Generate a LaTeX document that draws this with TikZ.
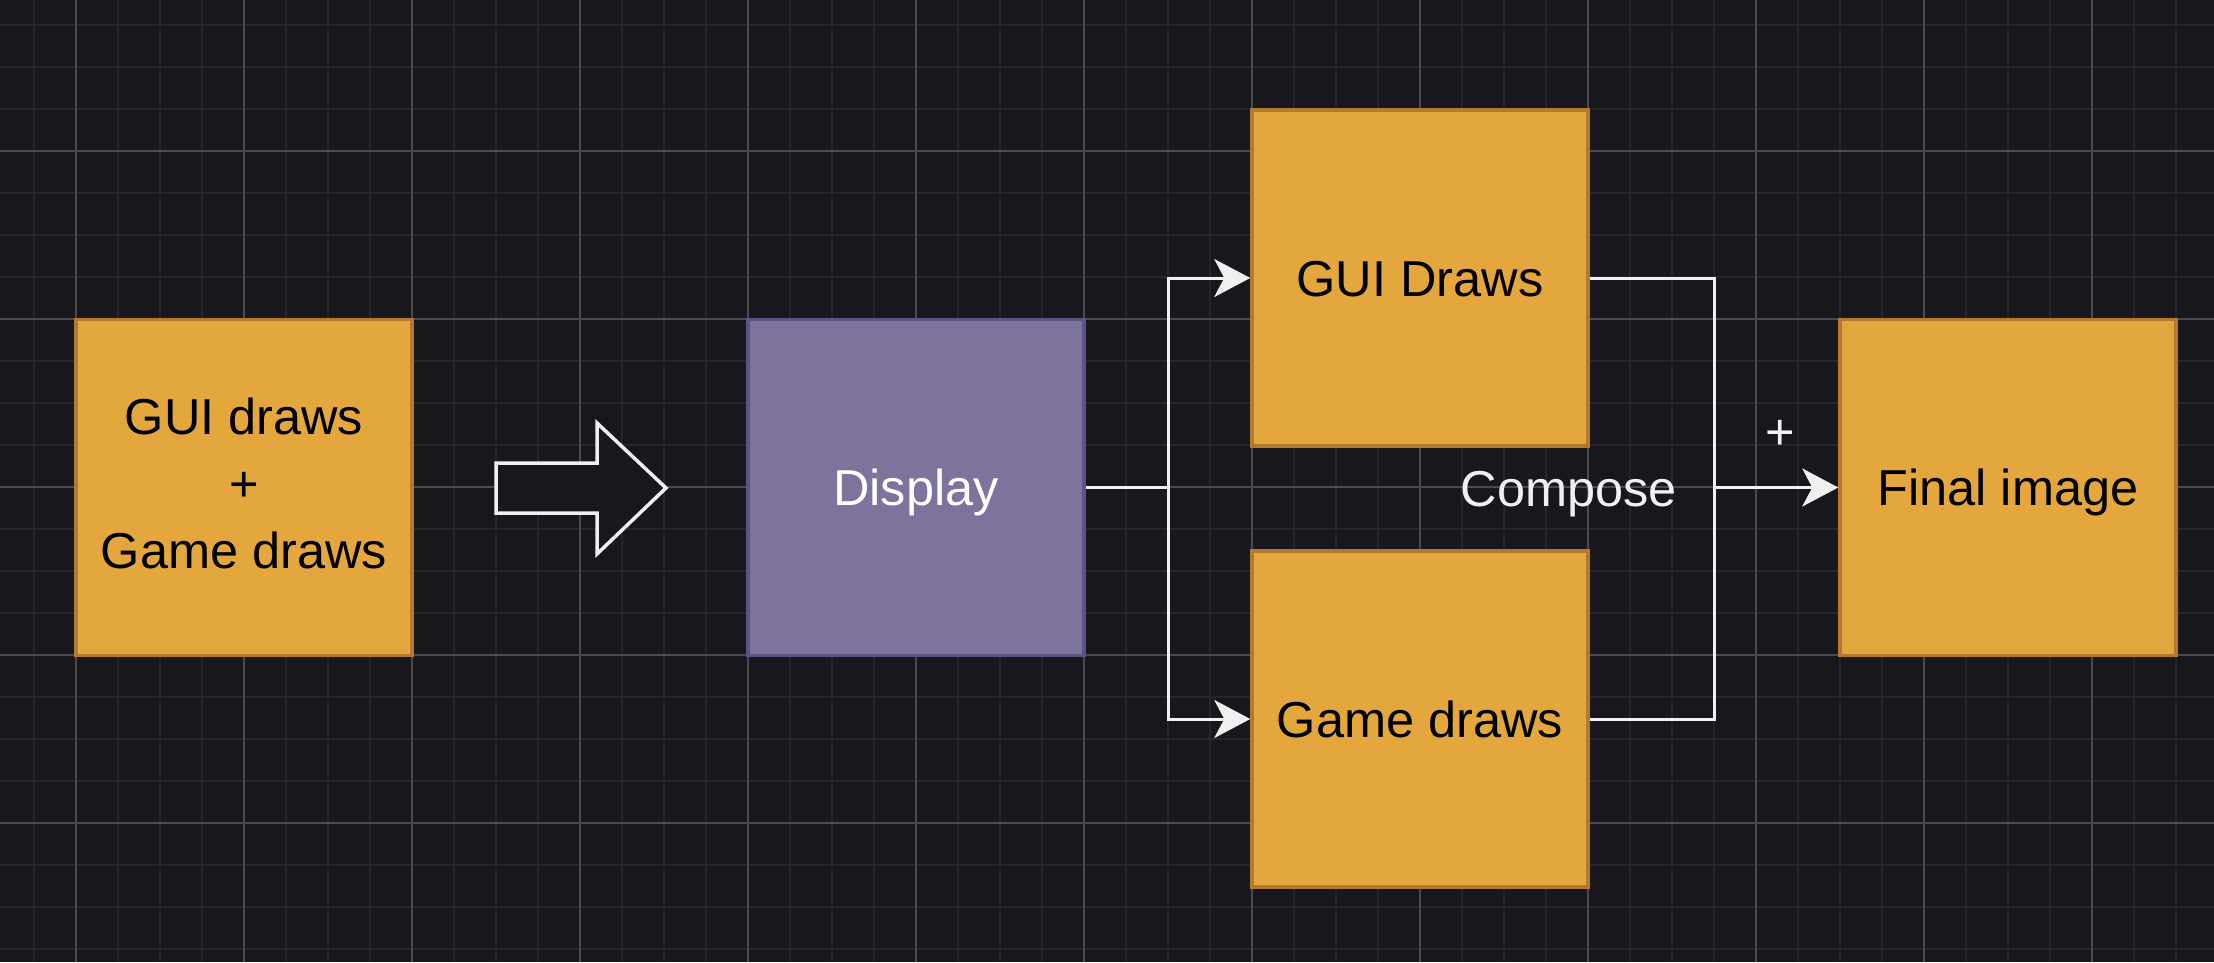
\documentclass[tikz,border=0pt]{standalone}
\usepackage{fontspec}
\setmainfont{Liberation Sans}
\usetikzlibrary{arrows.meta}
\definecolor{bgc}{HTML}{19171E}
\definecolor{minorc}{HTML}{26252B}
\definecolor{majorc}{HTML}{4A494F}
\definecolor{ofill}{HTML}{E4A73D}
\definecolor{ostroke}{HTML}{B37A2E}
\definecolor{pfill}{HTML}{7D739C}
\definecolor{pstroke}{HTML}{5C5488}
\definecolor{wline}{HTML}{F0F0F0}
\begin{document}
\begin{tikzpicture}[x=1pt,y=-1pt,
  boxbase/.style={line width=3.5pt, minimum width=336pt, minimum height=336pt,
    inner sep=0pt, font=\fontsize{50.5}{67}\selectfont, align=center},
  oneline/.style={text height=36.5pt, text depth=0pt},
  obox/.style={boxbase, draw=ostroke, fill=ofill, text=black},
  pbox/.style={boxbase, draw=pstroke, fill=pfill, text=white},
  lbl/.style={inner sep=0pt, font=\fontsize{50.5}{60}\selectfont, text=wline},
  conn/.style={draw=wline, line width=3pt, line join=miter},
  tip/.style={conn, -{Stealth[length=36pt, width=38pt, inset=10pt]}}]
\fill[bgc] (0,0) rectangle (2214,962);
\useasboundingbox (0,0) rectangle (2214,962);
% minor grid
\foreach \i in {0,...,51} {\draw[minorc, line width=2pt] (34+42*\i,0) -- (34+42*\i,962);}
\foreach \i in {0,...,22} {\draw[minorc, line width=2pt] (0,25+42*\i) -- (2214,25+42*\i);}
% major grid
\foreach \i in {0,...,12} {\draw[majorc, line width=1.5pt] (76+168*\i,0) -- (76+168*\i,962);}
\foreach \i in {0,...,4} {\draw[majorc, line width=1.5pt] (0,151+168*\i) -- (2214,151+168*\i);}
% boxes
\node[obox] (both) at (244,487.5) {GUI draws\\+\\Game draws\rule[-8.5pt]{0pt}{0pt}};
\node[pbox, oneline] (disp) at (916,487.5) {Display};
\node[obox, oneline] (gui) at (1420,278) {GUI Draws};
\node[obox, oneline] (game) at (1420,719) {Game draws};
\node[obox, oneline] (final) at (2008,487.5) {Final image};
% block arrow
\draw[draw=wline, fill=bgc, line width=3.5pt, line join=miter]
  (496,463) -- (597,463) -- (597,423) -- (666,488) -- (597,554) -- (597,513) -- (496,513) -- cycle;
% connectors
\coordinate (split) at (1168,487.5);
\coordinate (join) at (1714,487.5);
\draw[conn] (disp.east) -- (split);
\draw[tip] (split) |- (gui.west);
\draw[tip] (split) |- (game.west);
\draw[conn] (gui.east) -| (join);
\draw[conn] (game.east) -| (join);
\draw[tip] (join) -- (final.west);
% labels
\node[lbl, oneline] (compose) at (1569,488) {Compose};
\node[lbl] (plus) at (1780,435) {+};
\end{tikzpicture}
\end{document}
